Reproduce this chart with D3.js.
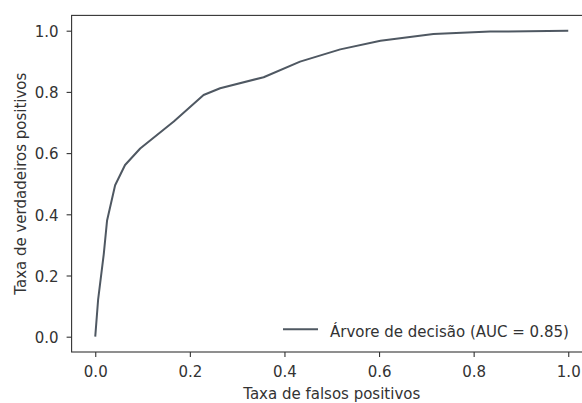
<!DOCTYPE html>
<html>
<head>
<meta charset="utf-8">
<script src="https://cdn.jsdelivr.net/npm/d3@7"></script>
<style>
  html, body { margin: 0; padding: 0; background: #ffffff; }
  svg { display: block; }
  text { font-family: "DejaVu Sans", sans-serif; fill: #333333; }
</style>
</head>
<body>
<svg id="chart" width="582" height="403"></svg>
<script>
// ROC curve of the decision tree classifier
const fpr = [0, 0.006, 0.018, 0.025, 0.042, 0.063, 0.095, 0.166, 0.229, 0.264, 0.356, 0.433, 0.518, 0.603, 0.715, 0.835, 1.0];
const tpr = [0, 0.12, 0.27, 0.38, 0.495, 0.561, 0.615, 0.703, 0.79, 0.812, 0.848, 0.899, 0.939, 0.967, 0.989, 0.997, 1.0];
const aucValue = 0.85;
const seriesName = "Árvore de decisão";

const xTicks = [0.0, 0.2, 0.4, 0.6, 0.8, 1.0];
const yTicks = [0.0, 0.2, 0.4, 0.6, 0.8, 1.0];
const xTitle = "Taxa de falsos positivos";
const yTitle = "Taxa de verdadeiros positivos";

const svg = d3.select("#chart");
const lineColor = "#4f5862";
const axisColor = "#333333";
const fontSize = 15;

const x = d3.scaleLinear().domain([-0.05, 1.05]).range([71.6, 591.9]);
const y = d3.scaleLinear().domain([-0.05, 1.05]).range([352, 15.4]);

// axes frame
const [x0, x1] = x.range();
const [yb, yt] = y.range();
svg.append("rect")
  .attr("x", x0).attr("y", yt)
  .attr("width", x1 - x0).attr("height", yb - yt)
  .attr("fill", "none").attr("stroke", axisColor).attr("stroke-width", 1.1);

// x axis
const gx = svg.append("g")
  .attr("transform", `translate(0,${yb})`)
  .call(d3.axisBottom(x).tickValues(xTicks).tickFormat(d3.format(".1f"))
    .tickSize(5).tickSizeOuter(0).tickPadding(9.5));
gx.select(".domain").remove();
gx.selectAll("line").attr("stroke", axisColor).attr("stroke-width", 1.1);
gx.selectAll("text").attr("font-size", fontSize).attr("font-family", "DejaVu Sans").attr("fill", axisColor);

// y axis
const gy = svg.append("g")
  .attr("transform", `translate(${x0},0)`)
  .call(d3.axisLeft(y).tickValues(yTicks).tickFormat(d3.format(".1f"))
    .tickSize(5).tickSizeOuter(0).tickPadding(8));
gy.select(".domain").remove();
gy.selectAll("line").attr("stroke", axisColor).attr("stroke-width", 1.1);
gy.selectAll("text").attr("font-size", fontSize).attr("font-family", "DejaVu Sans")
  .attr("fill", axisColor).attr("dy", "0.38em");

// axis titles
svg.append("text")
  .attr("x", (x0 + x1) / 2).attr("y", 398.5)
  .attr("text-anchor", "middle").attr("font-size", fontSize)
  .text(xTitle);

svg.append("text")
  .attr("transform", `translate(26,${(yt + yb) / 2}) rotate(-90)`)
  .attr("text-anchor", "middle").attr("font-size", fontSize)
  .text(yTitle);

// ROC curve
const pts = fpr.map((f, i) => [f, tpr[i]]);
svg.append("path")
  .datum(pts)
  .attr("fill", "none")
  .attr("stroke", lineColor)
  .attr("stroke-width", 2)
  .attr("stroke-linejoin", "round")
  .attr("d", d3.line().x(d => x(d[0])).y(d => y(d[1])));

// legend
const leg = svg.append("g");
leg.append("line")
  .attr("x1", 283).attr("x2", 318).attr("y1", 329.3).attr("y2", 329.3)
  .attr("stroke", lineColor).attr("stroke-width", 2);
leg.append("text")
  .attr("x", 330).attr("y", 336.5)
  .attr("font-size", fontSize)
  .text(`${seriesName} (AUC = ${aucValue.toFixed(2)})`);
</script>
</body>
</html>
